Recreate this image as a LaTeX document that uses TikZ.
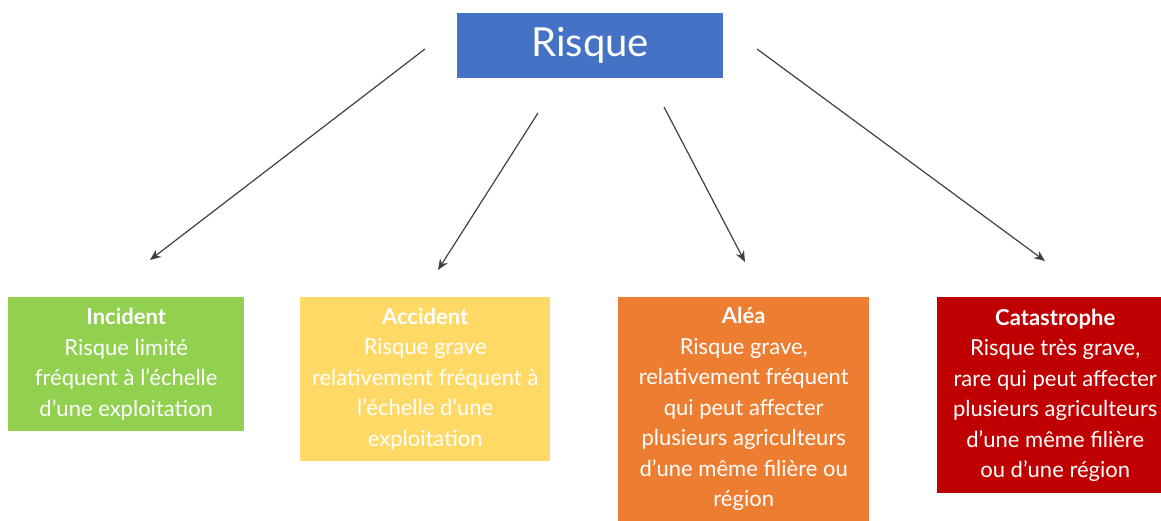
\documentclass[tikz,border=0pt]{standalone}
\usepackage{fontspec}
\setmainfont{Lato}
\usetikzlibrary{arrows.meta}
\definecolor{cblue}{HTML}{4472C4}
\definecolor{cgreen}{HTML}{92D050}
\definecolor{cyellow}{HTML}{FFD966}
\definecolor{corange}{HTML}{ED7D31}
\definecolor{cred}{HTML}{C00000}
\definecolor{carrow}{HTML}{404040}
\tikzset{
  box/.style={anchor=north west, inner sep=0pt, align=center, text=white,
    font=\fontsize{22}{30.5}\selectfont},
  conn/.style={draw=carrow, line width=1.2pt, -{Stealth[length=11pt,width=9pt]}},
}
\begin{document}
\begin{tikzpicture}[x=1pt,y=-1pt]
\useasboundingbox (0,0) rectangle (1161,521);
\node[box, fill=cblue, minimum width=266pt, minimum height=65pt,
  font=\fontsize{40}{46}\selectfont] (risque) at (457,13) {Risque};
\node[box, fill=cgreen, minimum width=236pt, minimum height=134pt] (incident) at (8,297)
  {{\bfseries Incident}\\Risque limité\\fréquent à l’échelle\\d’une exploitation};
\node[box, fill=cyellow, minimum width=250pt, minimum height=164pt] (accident) at (300,297)
  {{\bfseries Accident}\\Risque grave\\relativement fréquent à\\l’échelle d’une\\exploitation};
\node[box, fill=corange, minimum width=251pt, minimum height=224pt] (alea) at (618,297)
  {{\bfseries Aléa}\\Risque grave,\\relativement fréquent\\qui peut affecter\\plusieurs agriculteurs\\d’une même filière ou\\région};
\node[box, fill=cred, minimum width=236pt, minimum height=196pt] (catastrophe) at (937,297)
  {{\bfseries Catastrophe}\\Risque très grave,\\rare qui peut affecter\\plusieurs agriculteurs\\d’une même filière\\ou d’une région};
\coordinate (s1) at (425,49);
\coordinate (e1) at (150,260);
\coordinate (s2) at (538,113);
\coordinate (e2) at (438,270);
\coordinate (s3) at (664,107);
\coordinate (e3) at (745,262);
\coordinate (s4) at (757,49);
\coordinate (e4) at (1045,261);
\draw[conn] (s1) -- (e1);
\draw[conn] (s2) -- (e2);
\draw[conn] (s3) -- (e3);
\draw[conn] (s4) -- (e4);
\end{tikzpicture}
\end{document}
